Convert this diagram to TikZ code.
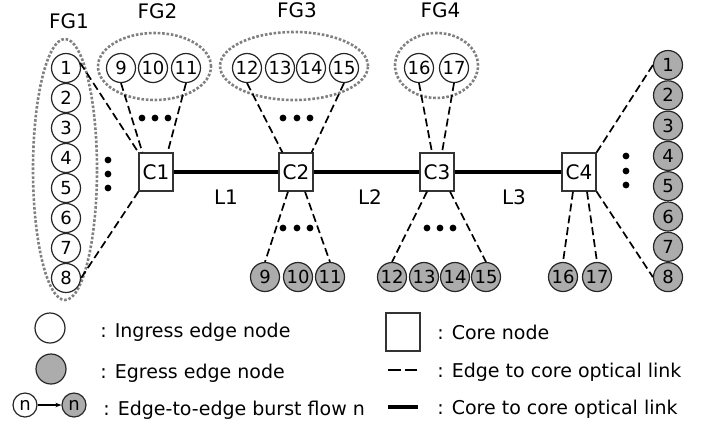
\documentclass[tikz,border=0pt]{standalone}
\usepackage{fontspec}
\setmainfont{DejaVu Sans}
\usetikzlibrary{arrows.meta, shapes.geometric}

\begin{document}
\begin{tikzpicture}[
    x=0.5pt, y=-0.5pt,
    every node/.style={font=\fontsize{10}{12}\selectfont},
    ingress/.style={circle, draw=black!85, fill=white, line width=0.6pt,
                    minimum size=14.5pt, inner sep=0pt, font=\fontsize{9}{10}\selectfont},
    egress/.style={ingress, fill=gray!65},
    core/.style={rectangle, draw=black!80, fill=white, line width=0.6pt,
                 minimum width=17pt, minimum height=19pt, inner sep=0pt},
    fgring/.style={ellipse, draw=black!50, line width=1.3pt,
                   dash pattern=on 1.3pt off 0.9pt, inner sep=0pt},
    fglbl/.style={font=\fontsize{10}{12}\selectfont},
    edgelink/.style={line width=0.85pt, dash pattern=on 4pt off 2pt},
    corelink/.style={line width=1.7pt},
    legtext/.style={anchor=base west, inner sep=0pt, font=\fontsize{9.5}{11}\selectfont},
]
\useasboundingbox (0,0) rectangle (704,424);

% flow groups
\node[fgring, minimum width=32pt, minimum height=130.5pt,
      label={[fglbl, label distance=1pt, xshift=2pt]above:FG1}] (fg1) at (65,169.5) {};
\node[fgring, minimum width=56.5pt, minimum height=33.5pt,
      label={[fglbl, label distance=3pt, xshift=1.5pt]above:FG2}] (fg2) at (154.5,66.5) {};
\node[fgring, minimum width=74pt, minimum height=34pt,
      label={[fglbl, label distance=3pt, xshift=1.5pt]above:FG3}] (fg3) at (294,66) {};
\node[fgring, minimum width=41.5pt, minimum height=32.5pt,
      label={[fglbl, label distance=3.5pt, xshift=2pt]above:FG4}] (fg4) at (436.5,65.5) {};

% edge nodes
\foreach \i in {1,...,8}
    \node[ingress] (in\i) at (66,{38+30*\i}) {\i};
\foreach \i/\x in {9/121, 10/153, 11/186, 12/247, 13/280, 14/311, 15/344, 16/419, 17/454}
    \node[ingress] (in\i) at (\x,68) {\i};
\foreach \i in {1,...,8}
    \node[egress] (out\i) at (668,{34.7+30.3*\i}) {\i};
\foreach \i/\x in {9/265, 10/298, 11/330, 12/392, 13/424, 14/455, 15/486, 16/563, 17/597}
    \node[egress] (out\i) at (\x,277) {\i};

% core nodes
\node[core] (c1) at (156,172) {C1};
\node[core] (c2) at (296,172) {C2};
\node[core] (c3) at (437,172) {C3};
\node[core] (c4) at (579,172) {C4};

\draw[corelink] (c1) -- (c2) -- (c3) -- (c4);
\node (l1) at (226,197) {L1};
\node (l2) at (370,197) {L2};
\node (l3) at (514,197) {L3};

\draw[edgelink] (in1.20) -- (c1.north west);
\draw[edgelink] (in8.east) -- (c1.south west);
\draw[edgelink] (in9.south) -- ([xshift=2pt]c1.north west);
\draw[edgelink] (in11.south) -- ([xshift=-3pt]c1.north east);
\draw[edgelink] (in12.south) -- ([xshift=2pt]c2.north west);
\draw[edgelink] (in15.south) -- ([xshift=-1pt]c2.north east);
\draw[edgelink] ([xshift=-4pt]c2.south) -- (out9.north);
\draw[edgelink] ([xshift=4.5pt]c2.south) -- (out11.north);
\draw[edgelink] (in16.south) -- ([xshift=-2.5pt]c3.north);
\draw[edgelink] (in17.south) -- ([xshift=2.5pt]c3.north);
\draw[edgelink] ([xshift=-5pt]c3.south) -- (out12.north);
\draw[edgelink] ([xshift=6.5pt]c3.south) -- (out15.north);
\draw[edgelink] (c4.north east) -- (out1.west);
\draw[edgelink] (c4.south east) -- (out8.west);
\draw[edgelink] ([xshift=-3pt]c4.south) -- (out16.north);
\draw[edgelink] ([xshift=4pt]c4.south) -- (out17.north);

% ellipsis dots
\foreach \x in {142,155,168} \fill (\x,118) circle[radius=1.7pt];
\foreach \x in {283,297,310} \fill (\x,118) circle[radius=1.7pt];
\foreach \x in {283,297,310} \fill (\x,228) circle[radius=1.7pt];
\foreach \x in {427,440,453} \fill (\x,228) circle[radius=1.7pt];
\foreach \y in {160,174,188} \fill (108,\y) circle[radius=1.7pt];
\foreach \y in {156,171,185} \fill (626,\y) circle[radius=1.7pt];

% legend
\node[ingress, minimum size=15pt] (legin) at (50,328) {};
\node[egress, minimum size=15pt] (legout) at (51,369) {};
\node[ingress, minimum size=12pt] (flowin) at (25,405) {n};
\node[egress, minimum size=12pt] (flowout) at (74,405) {n};
\draw[-{Stealth[length=3pt]}, line width=0.6pt] (flowin) -- (flowout);
\node[legtext] (txtin) at (100,337) {: Ingress edge node};
\node[legtext] (txtout) at (100,378) {: Egress edge node};
\node[legtext] (txtflow) at (103,415) {: Edge-to-edge burst flow n};

\node[core] (legcore) at (403,332) {};
\coordinate (dashA) at (388,370);
\coordinate (dashB) at (417,370);
\draw[edgelink, dash pattern=on 6.5pt off 2pt] (dashA) -- (dashB);
\coordinate (solidA) at (388,407);
\coordinate (solidB) at (418,407);
\draw[corelink, line width=2pt] (solidA) -- (solidB);
\node[legtext] (txtcore) at (437,339) {: Core node};
\node[legtext] (txtedge) at (437,377) {: Edge to core optical link};
\node[legtext] (txtcc) at (437,414) {: Core to core optical link};
\end{tikzpicture}
\end{document}
